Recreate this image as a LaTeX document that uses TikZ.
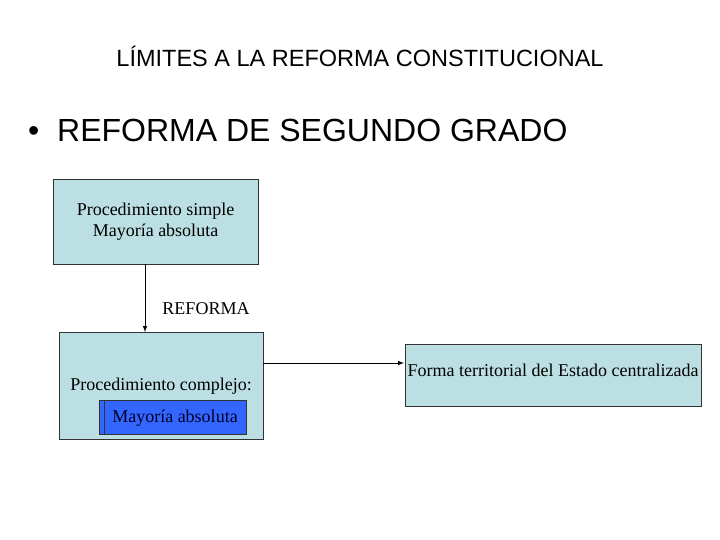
\documentclass[tikz,border=0pt]{standalone}
\usepackage{fontspec}
\setmainfont{Liberation Serif}
\newfontfamily\hsans{Liberation Sans}
\definecolor{boxfill}{HTML}{BCDFE3}
\definecolor{bluefill}{HTML}{3366FF}
\begin{document}
\begin{tikzpicture}[x=1pt,y=-1pt,
  box/.style={draw=black!80, fill=boxfill, line width=0.8pt},
  lbl/.style={font=\fontsize{18}{21}\selectfont},
  arr/.style={-latex, line width=1pt}]
\useasboundingbox (0,0) rectangle (720,540);
\node[font=\hsans\fontsize{23.5}{27}\selectfont] (title) at (360,56) {LÍMITES A LA REFORMA CONSTITUCIONAL};
\node[font=\hsans\fontsize{32}{36}\selectfont, anchor=west, inner sep=0pt] (sub) at (28,130) {•\ \ REFORMA DE SEGUNDO GRADO};
\draw[box] (53,179) rectangle (258,264);
\coordinate (topb) at (145,264);
\node[lbl, align=center] (t1) at (155.5,222) {Procedimiento simple\\Mayoría absoluta};
\node[lbl] (ref) at (206,309) {REFORMA};
\draw[box] (59,332) rectangle (263,439);
\coordinate (botb) at (145,332);
\node[lbl] (pc) at (161,386) {Procedimiento complejo:};
\draw[draw=black!80, fill=bluefill, line width=0.8pt] (99,400) rectangle (246,434);
\draw[black!80, line width=0.8pt] (104,400) -- (104,434);
\node[lbl, text=black!85!blue] (ma) at (175,418) {Mayoría absoluta};
\draw[box] (405,344) rectangle (701,406);
\node[lbl] (ft) at (553,370) {Forma territorial del Estado centralizada};
\coordinate (l) at (263,363);
\coordinate (r) at (404,363);
\draw[arr] (topb) -- (botb);
\draw[arr] (l) -- (r);
\end{tikzpicture}
\end{document}
